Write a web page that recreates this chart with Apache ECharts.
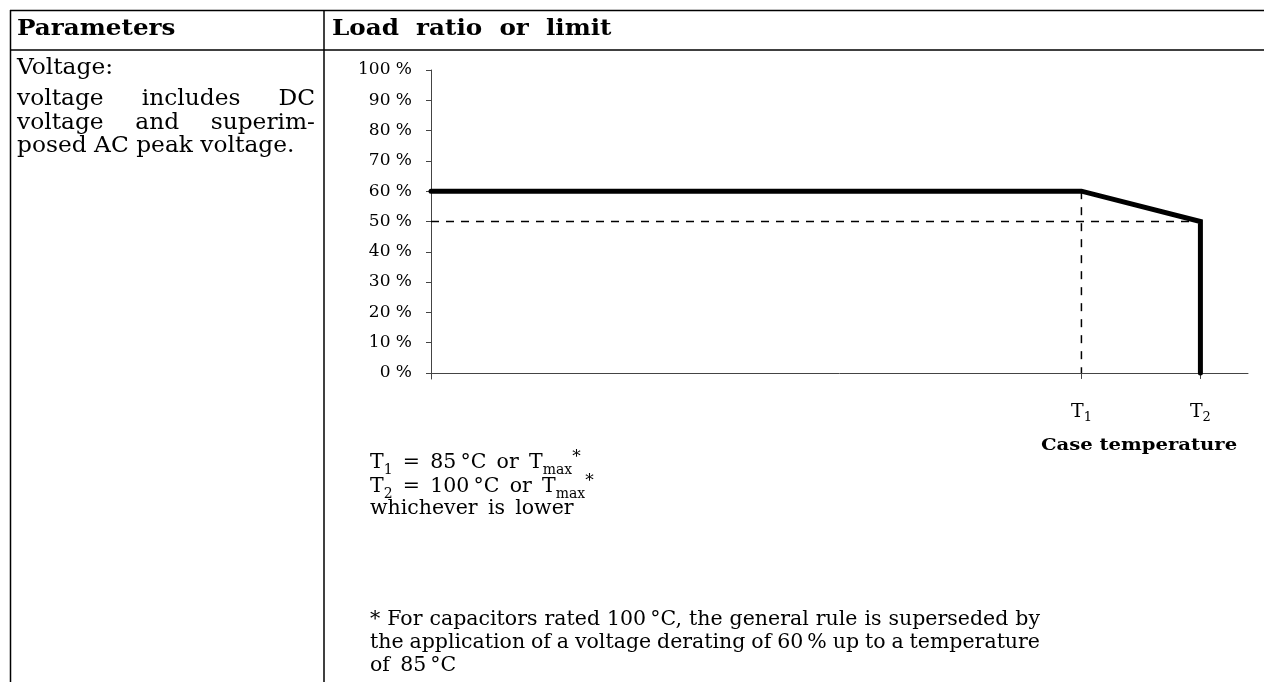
<!DOCTYPE html>
<html>
<head>
<meta charset="utf-8">
<script src="https://cdn.jsdelivr.net/npm/echarts@6/dist/echarts.min.js"></script>
<style>
html, body { margin: 0; padding: 0; background: #fff; }
#main { width: 1265px; height: 682px; }
</style>
</head>
<body>
<div id="main"></div>
<script>
// derating curve: case temperature (axis starts a little above 0) vs load ratio in %
var curveTemp = [3, 85, 100, 100];
var curveLoad = [60, 60, 50, 0];
// dashed helper lines
var guide50Temp = [3, 100];
var guide50Load = [50, 50];
var guideT1Temp = [85, 85];
var guideT1Load = [60, 0];
// ticks
var yTicks = [0, 10, 20, 30, 40, 50, 60, 70, 80, 90, 100];
var xTicks = [85, 100];
var xTickSubs = ['1', '2'];

var serif = "'DejaVu Serif', 'Liberation Serif', serif";
var HEAD_SX = 1.12; // table text is wider than DejaVu Serif, stretch it a bit
var CELL_SX = 1.06;

function pairs(xs, ys) {
    var out = [];
    for (var i = 0; i < xs.length; i++) out.push([xs[i], ys[i]]);
    return out;
}

// spread the words of a line evenly between x0 and x1 (justified text)
var measureCtx = document.createElement('canvas').getContext('2d');
function justify(words, x0, x1, y, font, sx) {
    measureCtx.font = font;
    var widths = words.map(function (w) { return measureCtx.measureText(w).width * sx; });
    var total = widths.reduce(function (a, b) { return a + b; }, 0);
    var gap = (x1 - x0 - total) / (words.length - 1);
    var x = x0, out = [];
    for (var i = 0; i < words.length; i++) {
        out.push(txt(words[i], x, y, font, 'left', sx));
        x += widths[i] + gap;
    }
    return out;
}

function txt(s, x, y, font, align, sx) {
    return {
        type: 'text', x: x, y: y, z: 10, scaleX: sx || 1,
        style: { text: s, font: font, fill: '#000', align: align || 'left', verticalAlign: 'middle',
                 textAlign: align || 'left', textVerticalAlign: 'middle' }
    };
}

function richTxt(s, x, y) {
    return {
        type: 'text', x: x, y: y, z: 10,
        style: {
            text: s, fill: '#000', align: 'left', verticalAlign: 'middle',
            textAlign: 'left', textVerticalAlign: 'middle',
            rich: {
                n: { fontFamily: serif, fontSize: 20.5, lineHeight: 28, fill: '#000' },
                s: { fontFamily: serif, fontSize: 14, lineHeight: 14, verticalAlign: 'bottom', fill: '#000' },
                u: { fontFamily: serif, fontSize: 17, lineHeight: 24, verticalAlign: 'top', fill: '#000' }
            }
        }
    };
}

function hline(x1, x2, y) {
    return { type: 'line', z: 10, shape: { x1: x1, y1: y, x2: x2, y2: y }, style: { stroke: '#000', lineWidth: 1.5 } };
}
function vline(x, y1, y2) {
    return { type: 'line', z: 10, shape: { x1: x, y1: y1, x2: x, y2: y2 }, style: { stroke: '#000', lineWidth: 1.5 } };
}

var cellFont = '22px ' + serif;
var headFont = 'bold 22px ' + serif;
var noteFont = '20.5px ' + serif;
var sp = '\u2002'; // slightly wider word gap used in the formula lines

var graphics = [
    hline(10, 1264, 10.5),
    hline(10, 1264, 50),
    vline(10.5, 10, 682),
    vline(324, 10, 682),
    txt('Parameters', 17, 29, headFont, 'left', HEAD_SX),
    txt('Load  ratio  or  limit', 332, 29, headFont, 'left', HEAD_SX),
    txt('Voltage:', 17, 68, cellFont, 'left', CELL_SX),
    txt('posed AC peak voltage.', 17, 146, cellFont, 'left', CELL_SX),
    txt('Case temperature', 1139, 445, 'bold 17.5px ' + serif, 'center', HEAD_SX),
    richTxt('{n|T}{s|1}{n|' + sp + '=' + sp + '85\u2009°C' + sp + 'or' + sp + 'T}{s|max}{u|*}', 370, 463),
    richTxt('{n|T}{s|2}{n|' + sp + '=' + sp + '100\u2009°C' + sp + 'or' + sp + 'T}{s|max}{u|*}', 370, 487),
    txt('whichever' + sp + 'is' + sp + 'lower', 370, 509, noteFont),
    txt('of' + sp + '85\u2009°C', 370, 666, noteFont)
];
graphics = graphics
    .concat(justify(['voltage', 'includes', 'DC'], 17, 315, 99, cellFont, CELL_SX))
    .concat(justify(['voltage', 'and', 'superim-'], 17, 315, 123, cellFont, CELL_SX))
    .concat(justify(['*', 'For', 'capacitors', 'rated', '100\u2009°C,', 'the', 'general', 'rule', 'is', 'superseded', 'by'], 370, 1040, 620, noteFont, 1))
    .concat(justify(['the', 'application', 'of', 'a', 'voltage', 'derating', 'of', '60\u2009%', 'up', 'to', 'a', 'temperature'], 370, 1040, 643, noteFont, 1));

var myChart = echarts.init(document.getElementById('main'));

var option = {
    animation: false,
    backgroundColor: '#fff',
    grid: { left: 431, right: 17, top: 70, bottom: 303 },
    xAxis: {
        type: 'value',
        min: 3,
        max: 106,
        splitLine: { show: false },
        axisLine: { show: true, onZero: true, lineStyle: { color: '#444', width: 1 } },
        axisTick: { show: true, customValues: xTicks, length: 6, lineStyle: { color: '#444' } },
        axisLabel: {
            customValues: xTicks,
            margin: 21,
            formatter: function (v) {
                return '{t|T}{s|' + xTickSubs[xTicks.indexOf(v)] + '}';
            },
            rich: {
                t: { fontFamily: serif, fontSize: 19, lineHeight: 24, color: '#000' },
                s: { fontFamily: serif, fontSize: 13, lineHeight: 13, verticalAlign: 'bottom', color: '#000' }
            }
        }
    },
    yAxis: {
        type: 'value',
        min: -2,
        max: 100,
        splitLine: { show: false },
        axisLine: { show: true, onZero: false, lineStyle: { color: '#444', width: 1 } },
        axisTick: { show: true, customValues: yTicks, length: 5, lineStyle: { color: '#444' } },
        axisLabel: {
            customValues: yTicks,
            margin: 19,
            color: '#000',
            fontFamily: serif,
            fontSize: 17,
            formatter: '{value} %'
        }
    },
    series: [
        {
            name: '50 % guide',
            type: 'line',
            symbol: 'none',
            data: pairs(guide50Temp, guide50Load),
            lineStyle: { color: '#000', width: 1.5, type: [8, 7] },
            z: 2
        },
        {
            name: 'T1 guide',
            type: 'line',
            symbol: 'none',
            data: pairs(guideT1Temp, guideT1Load),
            lineStyle: { color: '#000', width: 1.5, type: [8, 8] },
            z: 2
        },
        {
            name: 'Load ratio',
            type: 'line',
            symbol: 'none',
            data: pairs(curveTemp, curveLoad),
            lineStyle: { color: '#000', width: 5, cap: 'round', join: 'miter' },
            z: 3
        }
    ],
    graphic: graphics
};

myChart.setOption(option);
</script>
</body>
</html>
